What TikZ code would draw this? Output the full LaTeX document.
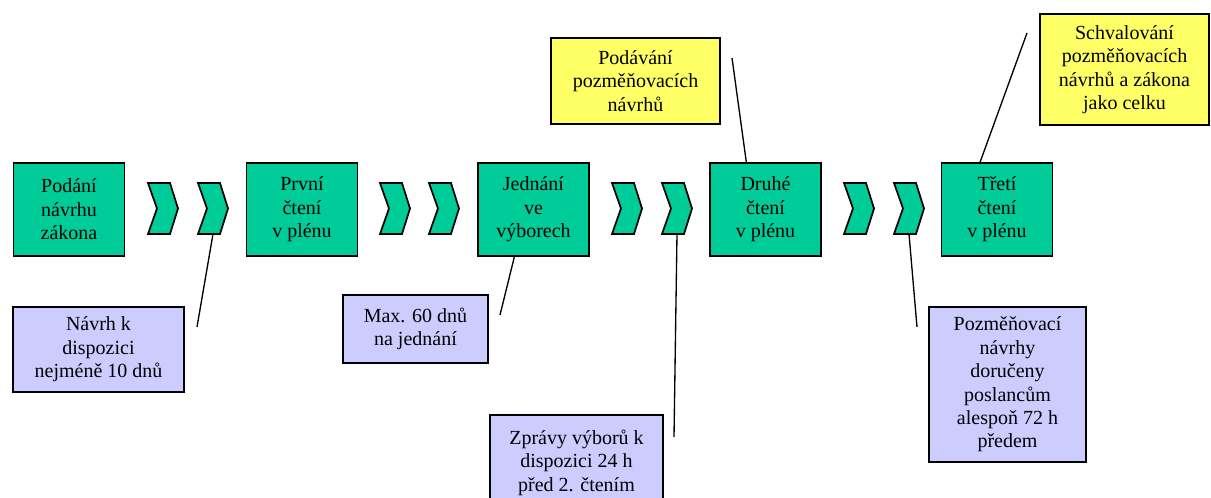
\documentclass[tikz,border=0pt]{standalone}
\usepackage{fontspec}
\setmainfont{Liberation Serif}
\usetikzlibrary{calc}

\definecolor{stepgreen}{RGB}{0,204,153}
\definecolor{notelilac}{RGB}{204,204,255}
\definecolor{noteyellow}{RGB}{255,255,102}

\tikzset{
  stage/.style={draw=black,fill=stepgreen,line width=1.3pt,minimum width=83.25pt,minimum height=69.75pt,
    align=center,inner sep=0pt,font=\fontsize{15}{17.6}\selectfont},
  lilacnote/.style={draw=black,fill=notelilac,line width=1.3pt,align=center,inner sep=0pt,
    font=\fontsize{15}{17.6}\selectfont},
  yellownote/.style={draw=black,fill=noteyellow,line width=1.3pt,align=center,inner sep=0pt,
    font=\fontsize{15}{17.6}\selectfont},
  chevron/.style={draw=black,fill=stepgreen,line width=1.3pt,line join=miter},
  callout/.style={draw=black,line width=1pt}
}

\begin{document}
\begin{tikzpicture}[x=0.75pt,y=0.75pt]
        \useasboundingbox (0,0) rectangle (1211,-498);

        % main stages
        \node[stage] (podani) at (69,-209.5) {Podání\\návrhu\\zákona};
        \node[stage] (prvni) at (302,-209.5) {První\\čtení\\v plénu};
        \node[stage] (jednani) at (533.5,-209.5) {Jednání\\ve\\výborech};
        \node[stage] (druhe) at (765.5,-209.5) {Druhé\\čtení\\v plénu};
        \node[stage] (treti) at (997,-209.5) {Třetí\\čtení\\v plénu};

        % chevrons between the stages
        \foreach \n/\x in {1a/148,1b/198,2a/380,2b/429,3a/612,3b/662,4a/844,4b/894} {
          \draw[chevron] (\x,-183) -- ++(22,0) -- ++(8,-25.5) -- ++(-8,-25.5)
            -- ++(-22,0) -- ++(9,25.5) -- cycle;
          \coordinate (ch\n) at (\x+15,-234);
        }

        % notes below
        \node[lilacnote,minimum width=128.25pt,minimum height=63.75pt] (dispozice) at (98.5,-349.5)
          {Návrh k\\dispozici\\nejméně 10 dnů};
        \node[lilacnote,minimum width=108.75pt,minimum height=51pt] (lhuta) at (415.5,-329)
          {Max. 60 dnů\\na jednání};
        \node[lilacnote,minimum width=129.75pt,minimum height=71.25pt] (zpravy) at (576.5,-462.5)
          {Zprávy výborů k\\dispozici 24 h\\před 2. čtením};
        \node[lilacnote,minimum width=117.75pt,minimum height=116.25pt] (dorucene) at (1007.5,-384.5)
          {Pozměňovací\\návrhy\\doručeny\\poslancům\\alespoň 72 h\\předem};

        % notes above
        \node[yellownote,minimum width=126.75pt,minimum height=64.5pt] (podavani) at (635.5,-81)
          {Podávání\\pozměňovacích\\návrhů};
        \node[yellownote,minimum width=126.75pt,minimum height=83.25pt] (schvalovani) at (1124.5,-69.5)
          {Schvalování\\pozměňovacích\\návrhů a zákona\\jako celku};

        % callout lines
        \coordinate (tA) at (197,-327);
        \coordinate (tB) at (500,-315);
        \coordinate (tC) at (674,-437);
        \coordinate (tD) at (917,-327);
        \coordinate (tE) at (732,-58);
        \coordinate (tF) at (1027,-33);
        \draw[callout] (tA) -- (ch1b);
        \draw[callout] (tB) -- ($(jednani.south west)!.33!(jednani.south east)$);
        \draw[callout] (tC) -- (ch3b);
        \draw[callout] (tD) -- (ch4b);
        \draw[callout] (tE) -- ($(druhe.north west)!.33!(druhe.north east)$);
        \draw[callout] (tF) -- ($(treti.north west)!.35!(treti.north east)$);
    \end{tikzpicture}
\end{document}
